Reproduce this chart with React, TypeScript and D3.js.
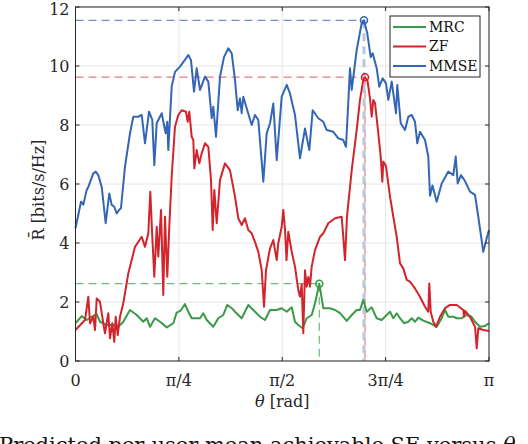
import React, { useEffect, useRef } from 'react';
import * as d3 from 'd3';

// theta given as a fraction of pi, values in bits/s/Hz
const mmseTheta = [0, 0.0133, 0.0189, 0.0271, 0.031, 0.043, 0.0489, 0.0551, 0.0634, 0.073, 0.0817, 0.0875, 0.0938, 0.0996, 0.1052, 0.11, 0.1197, 0.1318, 0.1398, 0.1519, 0.1601, 0.1681, 0.1778, 0.1857, 0.1906, 0.1964, 0.2085, 0.2148, 0.2181, 0.222, 0.2244, 0.2326, 0.2406, 0.2527, 0.2728, 0.2793, 0.2866, 0.2931, 0.3011, 0.3132, 0.3212, 0.3294, 0.3333, 0.3398, 0.3495, 0.3591, 0.3695, 0.3778, 0.3857, 0.3923, 0.3978, 0.4019, 0.4058, 0.414, 0.4261, 0.4341, 0.4421, 0.4542, 0.4624, 0.4704, 0.4784, 0.4866, 0.4987, 0.5108, 0.5187, 0.5308, 0.5429, 0.555, 0.5654, 0.5736, 0.5872, 0.5993, 0.6075, 0.6235, 0.6355, 0.6476, 0.6542, 0.6638, 0.668, 0.68, 0.6921, 0.6977, 0.7057, 0.7139, 0.7187, 0.7284, 0.7347, 0.7429, 0.7509, 0.7565, 0.7647, 0.7751, 0.7782, 0.7865, 0.7969, 0.8048, 0.8131, 0.821, 0.8266, 0.8331, 0.8452, 0.8532, 0.8573, 0.8634, 0.8735, 0.8856, 0.9016, 0.9137, 0.9195, 0.9243, 0.9323, 0.942, 0.954, 0.9662, 0.9741, 0.9862, 0.9944, 1];
const mmseValue = [4.5, 5.4, 5.3, 5.8, 5.9, 6.36, 6.42, 6.3, 5.9, 4.67, 5.68, 5.29, 5.23, 5.0, 5.12, 5.18, 6.59, 7.72, 8.28, 8.28, 8.34, 7.38, 8.45, 8.17, 6.64, 8.06, 8.4, 7.94, 7.72, 8.11, 7.15, 9.3, 9.8, 9.98, 10.37, 10.2, 9.13, 9.92, 9.19, 9.64, 9.47, 8.23, 8.62, 7.6, 9.64, 10.3, 10.6, 10.43, 9.53, 8.5, 8.9, 8.4, 8.96, 8.57, 8.0, 8.34, 8.17, 6.08, 7.72, 8.06, 8.73, 6.81, 8.96, 9.36, 9.07, 8.34, 6.87, 7.88, 7.15, 8.5, 8.23, 8.11, 7.83, 7.77, 7.55, 7.49, 7.26, 9.92, 9.19, 10.54, 11.45, 11.55, 11.1, 10.3, 10.43, 9.92, 9.3, 9.58, 9.41, 8.85, 9.47, 8.4, 9.36, 8.06, 7.83, 8.28, 8.34, 8.11, 7.38, 7.77, 7.49, 6.93, 5.6, 5.95, 5.4, 6.02, 6.42, 6.3, 6.93, 6.02, 6.3, 6.1, 5.74, 5.63, 4.89, 3.7, 4.16, 4.44];

const zfTheta = [0, 0.023, 0.031, 0.0351, 0.043, 0.0472, 0.0513, 0.0592, 0.0672, 0.0713, 0.0793, 0.0834, 0.089, 0.0938, 0.0972, 0.1021, 0.1076, 0.1156, 0.1277, 0.1439, 0.1601, 0.1681, 0.1761, 0.1809, 0.1857, 0.1906, 0.1964, 0.2002, 0.2068, 0.2123, 0.2164, 0.222, 0.2268, 0.2326, 0.2406, 0.2486, 0.2568, 0.2672, 0.2713, 0.2752, 0.281, 0.2849, 0.2873, 0.2931, 0.2994, 0.3052, 0.3132, 0.3212, 0.3277, 0.3318, 0.3357, 0.3415, 0.3495, 0.3615, 0.3736, 0.3857, 0.3937, 0.4019, 0.4099, 0.4179, 0.4261, 0.4341, 0.4421, 0.4503, 0.4559, 0.4607, 0.4704, 0.4784, 0.4866, 0.4904, 0.4987, 0.5025, 0.5067, 0.5103, 0.5146, 0.5229, 0.5308, 0.5388, 0.5429, 0.547, 0.5509, 0.555, 0.5591, 0.563, 0.5671, 0.5712, 0.5792, 0.5913, 0.5993, 0.6114, 0.6276, 0.6438, 0.6518, 0.6566, 0.668, 0.68, 0.688, 0.696, 0.7001, 0.7062, 0.7122, 0.7163, 0.7202, 0.7243, 0.7323, 0.7381, 0.742, 0.7444, 0.7509, 0.7606, 0.7686, 0.7768, 0.7848, 0.7927, 0.801, 0.8089, 0.821, 0.8331, 0.8452, 0.8532, 0.8556, 0.859, 0.8653, 0.8718, 0.8815, 0.8936, 0.9057, 0.9219, 0.9378, 0.9395, 0.9419, 0.954, 0.9662, 0.9703, 0.9741, 0.9862, 1];
const zfValue = [1.05, 1.39, 2.18, 1.28, 1.5, 1.05, 2.12, 2.01, 1.28, 0.94, 1.62, 0.77, 1.28, 0.65, 1.5, 0.88, 1.5, 1.96, 2.97, 3.87, 4.21, 3.87, 4.33, 5.74, 4.21, 2.86, 4.55, 3.54, 5.12, 2.24, 4.89, 2.86, 4.55, 6.25, 7.94, 8.34, 8.5, 8.45, 8.11, 8.45, 7.6, 7.49, 6.53, 7.15, 6.7, 7.04, 7.38, 7.26, 6.14, 4.44, 5.8, 4.67, 6.14, 6.7, 6.47, 5.57, 4.84, 4.61, 4.84, 4.44, 4.33, 4.04, 3.7, 3.08, 1.84, 3.08, 3.82, 4.1, 3.42, 3.99, 4.55, 5.12, 4.44, 3.42, 4.38, 3.7, 3.2, 2.41, 2.18, 2.6, 0.94, 3.08, 2.52, 2.85, 2.52, 3.2, 3.76, 4.21, 4.33, 4.67, 4.84, 4.89, 3.42, 4.9, 6.47, 7.83, 8.85, 9.53, 9.62, 9.5, 8.9, 8.28, 8.85, 8.75, 7.72, 6.93, 6.08, 6.76, 6.6, 5.57, 4.89, 4.21, 3.31, 3.14, 2.75, 2.69, 2.46, 2.18, 1.84, 1.67, 2.63, 1.67, 1.33, 1.16, 1.5, 1.79, 1.9, 1.9, 1.73, 1.5, 1.7, 1.5, 1.16, 0.43, 1.11, 1.05, 1.02];

const mrcTheta = [0, 0.015, 0.0271, 0.0392, 0.0513, 0.0592, 0.0755, 0.0914, 0.1035, 0.1156, 0.1318, 0.148, 0.164, 0.1722, 0.1802, 0.1923, 0.2044, 0.2206, 0.2365, 0.2447, 0.2544, 0.2648, 0.2728, 0.281, 0.2931, 0.3011, 0.3091, 0.3173, 0.3333, 0.3453, 0.3574, 0.3671, 0.3778, 0.3857, 0.4019, 0.4179, 0.43, 0.4462, 0.4583, 0.4704, 0.4866, 0.4987, 0.5108, 0.5229, 0.5308, 0.5388, 0.5495, 0.5591, 0.5712, 0.5792, 0.5896, 0.5993, 0.6155, 0.6276, 0.6397, 0.6559, 0.668, 0.68, 0.688, 0.696, 0.7045, 0.7163, 0.7284, 0.7405, 0.7526, 0.7606, 0.7686, 0.7768, 0.7848, 0.7945, 0.8048, 0.8131, 0.821, 0.829, 0.8411, 0.8573, 0.8735, 0.8856, 0.8936, 0.9016, 0.9137, 0.9219, 0.934, 0.9456, 0.9577, 0.9662, 0.9783, 0.9903, 1];
const mrcValue = [1.28, 1.52, 1.39, 1.5, 1.59, 1.33, 1.22, 1.22, 1.16, 1.33, 1.73, 1.56, 1.33, 1.45, 1.16, 1.45, 1.33, 1.14, 1.28, 1.64, 1.71, 1.93, 1.67, 1.45, 1.45, 1.45, 1.62, 1.39, 1.16, 1.45, 1.56, 1.9, 1.79, 1.67, 1.45, 1.9, 1.73, 1.5, 1.39, 1.73, 1.73, 1.79, 1.67, 1.82, 1.33, 1.22, 1.11, 1.45, 1.56, 1.96, 2.62, 1.79, 1.79, 1.73, 1.62, 1.36, 1.56, 1.73, 1.73, 2.07, 1.67, 1.82, 1.45, 1.39, 1.56, 1.67, 1.45, 1.62, 1.45, 1.28, 1.33, 1.45, 1.33, 1.47, 1.37, 1.28, 1.16, 1.45, 1.73, 1.5, 1.5, 1.45, 1.45, 1.56, 1.5, 1.33, 1.16, 1.19, 1.28];

const seriesNames = ['MRC', 'ZF', 'MMSE'];
const seriesColors = ['#3a9a47', '#d3242c', '#3366b5'];
const dashColors = ['#6fba79', '#ec7a7e', '#6d8fcb'];
const yTicks = [0, 2, 4, 6, 8, 10, 12];
const xTickFracs = [0, 0.25, 0.5, 0.75, 1];
const xTickLabels = ['0', 'π/4', 'π/2', '3π/4', 'π'];

const FONT = 'DejaVu Serif';

const App: React.FC = () => {
  const ref = useRef<SVGSVGElement | null>(null);

  useEffect(() => {
    const svg = d3.select(ref.current);
    svg.selectAll('*').remove();
    const left = 75.5, right = 489, top = 7, bottom = 361;

    const x = d3.scaleLinear().domain([0, Math.PI]).range([left, right]);
    const y = d3.scaleLinear().domain([0, 12]).range([bottom, top]);

    // grid
    const grid = svg.append('g').attr('stroke', '#e6e6e6').attr('stroke-width', 1);
    yTicks.forEach(t => {
      grid.append('line').attr('x1', left).attr('x2', right).attr('y1', y(t)).attr('y2', y(t));
    });
    xTickFracs.forEach(f => {
      grid.append('line').attr('x1', x(f * Math.PI)).attr('x2', x(f * Math.PI)).attr('y1', top).attr('y2', bottom);
    });

    const series = [
      { theta: mrcTheta, value: mrcValue },
      { theta: zfTheta, value: zfValue },
      { theta: mmseTheta, value: mmseValue },
    ].map((s, i) => ({
      name: seriesNames[i],
      color: seriesColors[i],
      dash: dashColors[i],
      points: s.theta.map((t, j) => [t * Math.PI, s.value[j]] as [number, number]),
    }));

    // peak guide lines
    series.forEach((s, i) => {
      const peak = s.points[d3.maxIndex(s.points, p => p[1])];
      const g = svg.append('g');
      g.append('line')
        .attr('x1', left).attr('x2', x(peak[0]))
        .attr('y1', y(peak[1])).attr('y2', y(peak[1]))
        .attr('stroke', s.dash).attr('stroke-width', 1.2)
        .attr('stroke-dasharray', '8,5');
      g.append('line')
        .attr('x1', x(peak[0])).attr('x2', x(peak[0]))
        .attr('y1', y(peak[1])).attr('y2', bottom)
        .attr('stroke', i === 2 ? '#b9c6de' : s.dash)
        .attr('stroke-width', i === 2 ? 3 : 1.2)
        .attr('stroke-dasharray', '8,5');
    });

    const line = d3.line<[number, number]>().x(d => x(d[0])).y(d => y(d[1]));
    series.forEach(s => {
      svg.append('path')
        .attr('d', line(s.points))
        .attr('fill', 'none')
        .attr('stroke', s.color)
        .attr('stroke-width', 2)
        .attr('stroke-linejoin', 'round');
    });

    // peak markers
    series.forEach(s => {
      const peak = s.points[d3.maxIndex(s.points, p => p[1])];
      svg.append('circle')
        .attr('cx', x(peak[0])).attr('cy', y(peak[1])).attr('r', 3.5)
        .attr('fill', 'none').attr('stroke', s.color).attr('stroke-width', 1.6);
    });

    // axes box and ticks
    svg.append('rect')
      .attr('x', left).attr('y', top).attr('width', right - left).attr('height', bottom - top)
      .attr('fill', 'none').attr('stroke', '#262626').attr('stroke-width', 1);
    const ticks = svg.append('g').attr('stroke', '#262626').attr('stroke-width', 1);
    yTicks.forEach(t => {
      ticks.append('line').attr('x1', left).attr('x2', left + 4).attr('y1', y(t)).attr('y2', y(t));
      ticks.append('line').attr('x1', right).attr('x2', right - 4).attr('y1', y(t)).attr('y2', y(t));
    });
    xTickFracs.forEach(f => {
      const px = x(f * Math.PI);
      ticks.append('line').attr('x1', px).attr('x2', px).attr('y1', bottom).attr('y2', bottom - 4);
      ticks.append('line').attr('x1', px).attr('x2', px).attr('y1', top).attr('y2', top + 4);
    });

    svg.append('g').selectAll('text').data(yTicks).join('text')
      .attr('x', left - 6).attr('y', d => Math.max(y(d), 9)).attr('dy', '0.35em')
      .attr('text-anchor', 'end').attr('font-family', FONT).attr('font-size', 16)
      .attr('fill', '#262626').text(d => String(d));

    svg.append('g').selectAll('text').data(xTickFracs).join('text')
      .attr('x', d => x(d * Math.PI)).attr('y', bottom + 25)
      .attr('text-anchor', 'middle').attr('font-family', FONT).attr('font-size', 16)
      .attr('fill', '#262626').text((d, i) => xTickLabels[i]);

    svg.append('text')
      .attr('x', (left + right) / 2).attr('y', bottom + 46)
      .attr('text-anchor', 'middle').attr('font-family', FONT).attr('font-size', 16)
      .attr('fill', '#262626')
      .html('<tspan font-style="italic">θ</tspan> [rad]');

    svg.append('text')
      .attr('transform', `translate(44,${(top + bottom) / 2 + 6}) rotate(-90)`)
      .attr('text-anchor', 'middle').attr('font-family', FONT).attr('font-size', 16)
      .attr('fill', '#262626')
      .text('R̄ [bits/s/Hz]');

    // legend
    const lg = svg.append('g').attr('transform', 'translate(390,16)');
    lg.append('rect').attr('width', 90).attr('height', 61)
      .attr('fill', '#fff').attr('stroke', '#262626').attr('stroke-width', 1);
    seriesNames.forEach((n, i) => {
      const ly = 11 + i * 19.5;
      lg.append('line').attr('x1', 3).attr('x2', 36).attr('y1', ly).attr('y2', ly)
        .attr('stroke', seriesColors[i]).attr('stroke-width', 2);
      lg.append('text').attr('x', 39).attr('y', ly).attr('dy', '0.35em')
        .attr('font-family', FONT).attr('font-size', 14).attr('fill', '#111')
        .text(n);
    });

    // caption (cropped at the bottom)
    svg.append('text')
      .attr('x', -1).attr('y', 452)
      .attr('font-family', FONT).attr('font-size', 21).attr('fill', '#111')
      .html('Predicted per-user mean achievable SE versus <tspan font-style="italic">θ</tspan>');
  }, []);

  return (
    <svg ref={ref} width={528} height={444}
      style={{ position: 'absolute', left: 0, top: 0, background: '#fff' }} />
  );
};

export default App;
